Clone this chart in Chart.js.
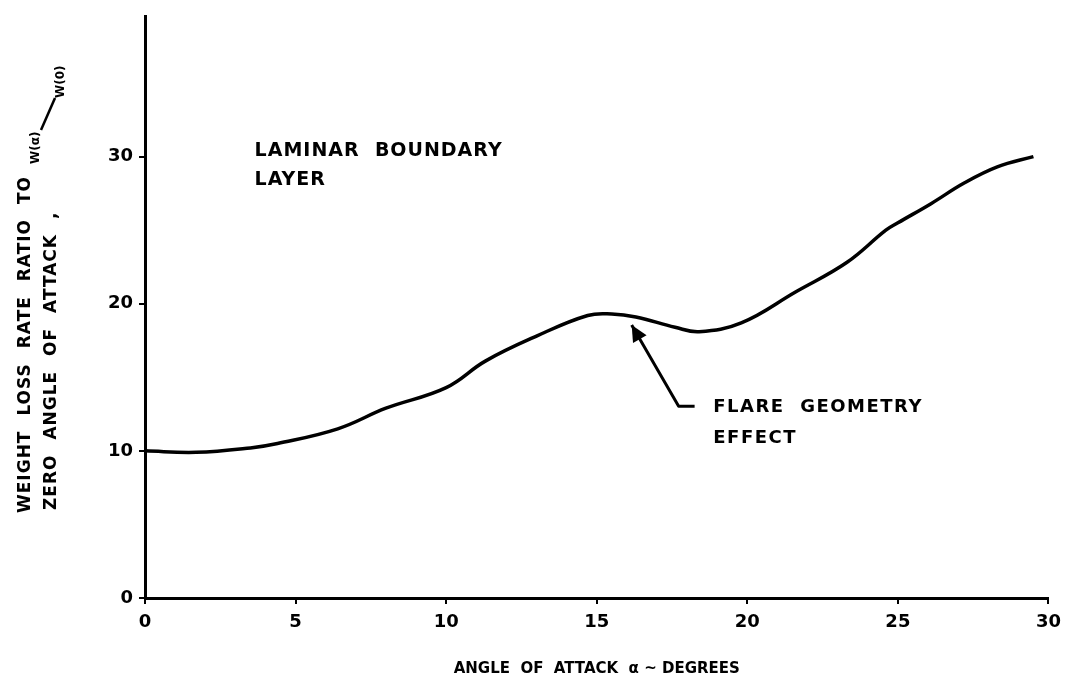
<!DOCTYPE html>
<html>
<head>
<meta charset="utf-8">
<script src="https://cdn.jsdelivr.net/npm/chart.js@4/dist/chart.umd.min.js"></script>
<style>
html, body { margin: 0; background: #fff; }
#wrap { width: 1069px; height: 678px; }
</style>
</head>
<body>
<div id="wrap"><canvas id="lossChart"></canvas></div>
<script>
// angle of attack (deg) and weight loss rate ratio
const angles = [0, 1.7, 3.5, 4.4, 6.4, 8.0, 10.0, 11.3, 13.0, 14.7, 15.5, 16.3, 17.6, 18.4, 19.8, 21.6, 23.3, 24.6, 25.0, 26.1, 27.2, 28.3, 29.5];
const ratios = [10.0, 9.9, 10.2, 10.5, 11.5, 12.9, 14.3, 16.1, 17.8, 19.2, 19.3, 19.1, 18.4, 18.1, 18.7, 20.8, 22.8, 25.0, 25.5, 26.8, 28.2, 29.3, 30.0];

const xTickValues = [0, 5, 10, 15, 20, 25, 30];
const yTickValues = [0, 10, 20, 30];

const xTitle = "ANGLE  OF  ATTACK  \u03B1 ~ DEGREES";
const yTitleLines = ["WEIGHT LOSS RATE RATIO TO", "ZERO ANGLE OF ATTACK ,"];
const boundaryNote = ["LAMINAR  BOUNDARY", "LAYER"];
const flareNote = ["FLARE  GEOMETRY", "EFFECT"];

const ink = "#000";
const handFont = '"DejaVu Sans", sans-serif';

// =======================
// notes, arrow and y title
// =======================

const notesPlugin = {
    id: "notes",
    afterDraw(chart) {
        const { ctx, scales: { x, y } } = chart;
        ctx.save();
        ctx.fillStyle = ink;
        ctx.strokeStyle = ink;
        ctx.textBaseline = "middle";
        ctx.textAlign = "left";

        ctx.font = "bold 19px " + handFont;
        ctx.letterSpacing = "1px";
        ctx.fillText(boundaryNote[0], x.getPixelForValue(3.64), y.getPixelForValue(30.4));
        ctx.fillText(boundaryNote[1], x.getPixelForValue(3.64), y.getPixelForValue(28.4));

        ctx.font = "bold 18px " + handFont;
        ctx.letterSpacing = "1.5px";
        ctx.fillText(flareNote[0], x.getPixelForValue(18.87), y.getPixelForValue(12.97));
        ctx.fillText(flareNote[1], x.getPixelForValue(18.87), y.getPixelForValue(10.88));

        // arrow pointing at the bump
        const tipX = x.getPixelForValue(16.16), tipY = y.getPixelForValue(18.55);
        const kneeX = x.getPixelForValue(17.72), kneeY = y.getPixelForValue(13.04);
        const endX = x.getPixelForValue(18.25);
        ctx.lineWidth = 3;
        ctx.lineJoin = "round";
        ctx.beginPath();
        ctx.moveTo(endX, kneeY);
        ctx.lineTo(kneeX, kneeY);
        ctx.lineTo(tipX, tipY);
        ctx.stroke();
        const ang = Math.atan2(tipY - kneeY, tipX - kneeX);
        const len = 18, wing = 0.45;
        ctx.beginPath();
        ctx.moveTo(tipX, tipY);
        ctx.lineTo(tipX - len * Math.cos(ang - wing), tipY - len * Math.sin(ang - wing));
        ctx.lineTo(tipX - len * Math.cos(ang + wing), tipY - len * Math.sin(ang + wing));
        ctx.closePath();
        ctx.fill();

        // rotated y title with the W(a)/W(0) fraction
        ctx.font = "bold 17px " + handFont;
        ctx.letterSpacing = "1px";
        ctx.wordSpacing = "8px";
        ctx.save();
        ctx.translate(26, 513);
        ctx.rotate(-Math.PI / 2);
        ctx.fillText(yTitleLines[0], 0, 0);
        ctx.restore();
        ctx.save();
        ctx.translate(52, 510);
        ctx.rotate(-Math.PI / 2);
        ctx.fillText(yTitleLines[1], 0, 0);
        ctx.restore();

        ctx.letterSpacing = "0px";
        ctx.wordSpacing = "0px";
        ctx.font = "bold 12px " + handFont;
        ctx.save();
        ctx.translate(36, 164);
        ctx.rotate(-Math.PI / 2);
        ctx.fillText("W(\u03B1)", 0, 0);
        ctx.restore();
        ctx.save();
        ctx.translate(61, 98);
        ctx.rotate(-Math.PI / 2);
        ctx.fillText("W(0)", 0, 0);
        ctx.restore();
        ctx.lineWidth = 2.5;
        ctx.beginPath();
        ctx.moveTo(41, 130);
        ctx.lineTo(55, 98);
        ctx.stroke();

        ctx.restore();
    }
};

const lossCanvas = document.getElementById("lossChart");

new Chart(lossCanvas, {
    type: "line",
    data: {
        datasets: [{
            label: "Laminar boundary layer",
            data: angles.map((a, i) => ({ x: a, y: ratios[i] })),
            borderColor: ink,
            borderWidth: 3.5,
            pointRadius: 0,
            tension: 0.4,
            fill: false
        }]
    },
    options: {
        responsive: true,
        maintainAspectRatio: false,
        animation: false,
        layout: {
            padding: { top: 13, right: 16, bottom: 0, left: 0 }
        },
        plugins: {
            legend: { display: false },
            tooltip: { enabled: false }
        },
        scales: {
            x: {
                type: "linear",
                min: 0,
                max: 30,
                afterFit: scale => { scale.height = 80; },
                afterBuildTicks: scale => { scale.ticks = xTickValues.map(v => ({ value: v })); },
                grid: {
                    drawOnChartArea: false,
                    color: ink,
                    lineWidth: 2,
                    tickLength: 6
                },
                border: { color: ink, width: 3 },
                ticks: {
                    color: ink,
                    padding: 8,
                    maxRotation: 0,
                    font: { family: handFont, size: 18, weight: "bold" }
                },
                title: {
                    display: true,
                    text: xTitle,
                    color: ink,
                    padding: { top: 0, bottom: 0 },
                    font: { family: handFont, size: 15, weight: "bold" }
                }
            },
            y: {
                type: "linear",
                min: 0,
                max: 39.5,
                afterFit: scale => { scale.width = 145; },
                afterBuildTicks: scale => { scale.ticks = yTickValues.map(v => ({ value: v })); },
                grid: {
                    drawOnChartArea: false,
                    color: ink,
                    lineWidth: 2,
                    tickLength: 6
                },
                border: { color: ink, width: 3 },
                ticks: {
                    color: ink,
                    padding: 6,
                    font: { family: handFont, size: 18, weight: "bold" }
                }
            }
        }
    },
    plugins: [notesPlugin]
});
</script>
</body>
</html>
